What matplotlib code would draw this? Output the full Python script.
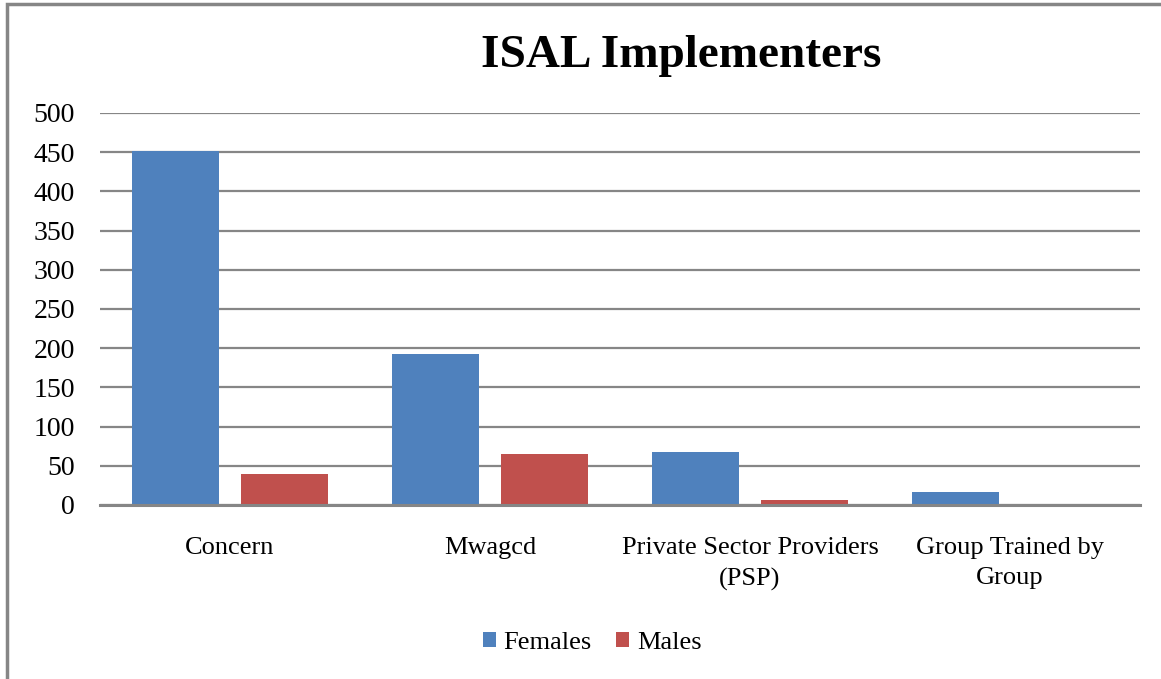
import numpy as np
import matplotlib.pyplot as plt
from matplotlib.patches import Rectangle

categories = ['Concern', 'Mwagcd', 'Private Sector Providers\n(PSP)', 'Group Trained by\nGroup']
females = [452, 193, 67, 16]
males = [39, 65, 7, 0]
yticks = list(range(0, 501, 50))

plt.rcParams['font.family'] = ['Liberation Serif', 'DejaVu Serif']

fig = plt.figure(figsize=(11.61, 6.79), dpi=100)
ax = fig.add_axes([100 / 1161, 1 - 505 / 679, 1040 / 1161, 392 / 679])

x = np.arange(len(categories))
w = 0.335
ax.bar(x - 0.208, females, w, color='#4f81bd', label='Females', zorder=3)
ax.bar(x + 0.208, males, w, color='#c0504d', label='Males', zorder=3)

ax.set_xlim(-0.5, len(categories) - 0.5)
ax.set_ylim(0, 500)
ax.set_yticks(yticks)
ax.grid(axis='y', color='#868686', linewidth=1.6, zorder=0)
ax.set_xticks(x)
ax.set_xticklabels(categories, fontsize=19, linespacing=1.5)
ax.tick_params(axis='y', labelsize=20, length=0, pad=18)
ax.tick_params(axis='x', length=0, pad=23)
for s in ['top', 'right', 'left']:
    ax.spines[s].set_visible(False)
ax.spines['bottom'].set_color('#868686')
ax.spines['bottom'].set_linewidth(2.2)
ax.spines['bottom'].set_zorder(4)

fig.text(681 / 1161, 1 - 56 / 679, 'ISAL Implementers', fontsize=34, fontweight='bold',
         ha='center', va='center')

fig.legend(loc='center', bbox_to_anchor=(592 / 1161, 1 - 643 / 679), ncol=2, frameon=False,
           fontsize=19, handlelength=0.5, handleheight=0.5, handletextpad=0.3, columnspacing=0.9)

# outer chart border (left and top edges visible)
fig.add_artist(Rectangle((7 / 1161, -0.1), 1.2, 1 - 4 / 679 + 0.1, transform=fig.transFigure,
                         fill=False, edgecolor='#868686', linewidth=2.5))

fig.savefig('out.png', dpi=100)
